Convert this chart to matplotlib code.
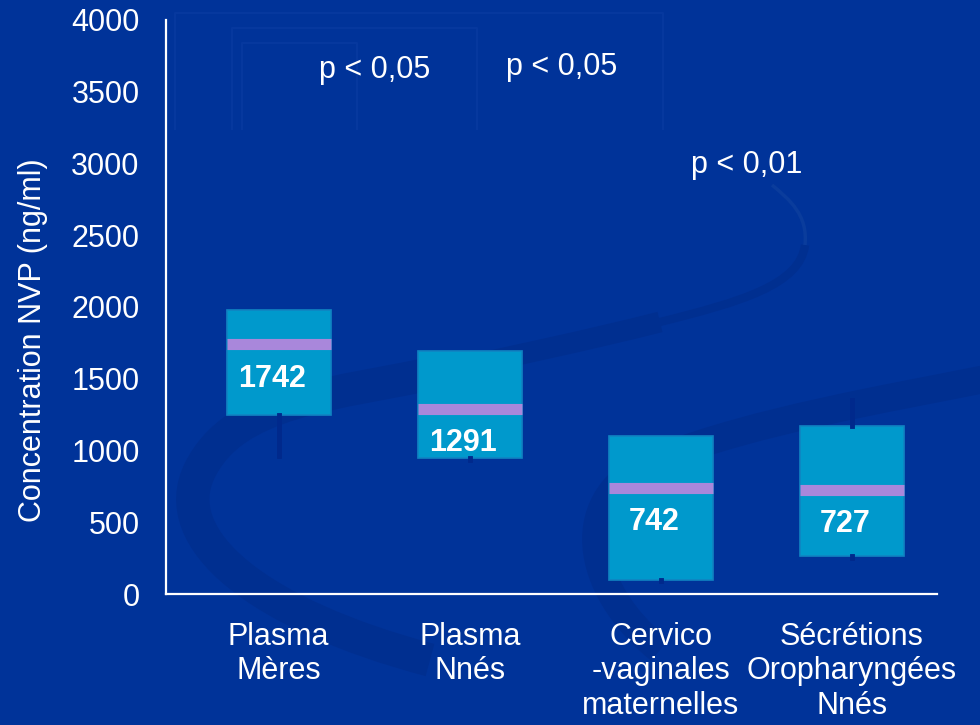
import matplotlib
matplotlib.use("Agg")
import matplotlib.pyplot as plt
from matplotlib.path import Path
from matplotlib.patches import PathPatch

# NVP concentrations (ng/ml) per compartment
categories = ["Plasma\nMères", "Plasma\nNnés", "Cervico\n-vaginales\nmaternelles",
              "Sécrétions\nOropharyngées\nNnés"]
medians = [1742, 1291, 742, 727]
q1 = [1250, 950, 100, 265]
q3 = [1980, 1690, 1100, 1170]
whis_lo = [960, 935, 88, 252]
whis_hi = [1980, 1690, 1100, 1350]

# significance labels: (x position between groups, y, text)
p_labels = [(0.50, 3650, "p < 0,05"), (1.48, 3670, "p < 0,05"), (2.45, 2990, "p < 0,01")]
# faint brackets: (x left, x right, y top, y bottom)
brackets = [(-0.545, 2.01, 4050, 3240), (-0.246, 1.037, 3944, 3240), (-0.194, 0.408, 3840, 3240)]

BG = "#003399"
BOX = "#0099cc"
MED = "#a987db"
WHISK = "#00298c"
FAINT = "#06389e"
SWIRL = "#002f90"

plt.rcParams["font.family"] = ["Liberation Sans", "DejaVu Sans"]

W, H = 980, 725
fig = plt.figure(figsize=(W / 100, H / 100), dpi=100, facecolor=BG)


def px(x, y):
    return (x / W, 1 - y / H)


# background swirl ornament: a band that thins out towards its tail
swirls = [
    ([(430, 660), (260, 615), (165, 540), (200, 470), (235, 400), (330, 395), (450, 370)], 24, SWIRL),
    ([(450, 370), (530, 352), (580, 342), (660, 322)], 15, SWIRL),
    ([(660, 322), (740, 302), (800, 285), (805, 245)], 6, SWIRL),
    ([(805, 245), (808, 215), (790, 200), (772, 185)], 2.5, "#0a3c9c"),
    ([(660, 650), (585, 590), (565, 495), (660, 458), (760, 420), (880, 400), (990, 378)], 20, SWIRL),
]
for pts, lw, col in swirls:
    codes = [Path.MOVETO] + [Path.CURVE4] * (len(pts) - 1)
    path = Path([px(*p) for p in pts], codes)
    fig.add_artist(PathPatch(path, transform=fig.transFigure, facecolor="none",
                             edgecolor=col, lw=lw, capstyle="butt", zorder=0))

ax = fig.add_axes([166 / W, 1 - 594 / H, (937 - 166) / W, (594 - 20) / H])
ax.set_facecolor("none")

stats = []
for i in range(len(categories)):
    stats.append({"med": medians[i], "q1": q1[i], "q3": q3[i],
                  "whislo": whis_lo[i], "whishi": whis_hi[i], "fliers": []})

positions = list(range(len(categories)))
ax.bxp(stats, positions=positions, widths=0.545, patch_artist=True,
       showcaps=False, showfliers=False,
       boxprops=dict(facecolor=BOX, edgecolor="#1084c2", lw=1.2),
       medianprops=dict(color=MED, lw=8, solid_capstyle="butt"),
       whiskerprops=dict(color=WHISK, lw=3.5))

for x, m in zip(positions, medians):
    ax.annotate(str(m), (x, m), xytext=(-5, -25), textcoords="offset points",
                ha="center", va="center", color="white", fontsize=22, fontweight="bold")

for x0, x1, yt, yb in brackets:
    ax.plot([x0, x0, x1, x1], [yb, yt, yt, yb], color=FAINT, lw=1.5, clip_on=False, zorder=0.5)

for x, y, t in p_labels:
    ax.text(x, y, t, ha="center", va="center", color="white", fontsize=22)

ax.set_xlim(-0.59, 3.445)
ax.set_ylim(0, 4000)
ax.set_yticks(range(0, 4001, 500))
ax.set_xticks(positions)
ax.set_xticklabels(categories)
ax.tick_params(axis="both", length=0, labelsize=22, labelcolor="white")
ax.tick_params(axis="y", pad=19)
ax.tick_params(axis="x", pad=20)
for s in ["top", "right"]:
    ax.spines[s].set_visible(False)
for s in ["left", "bottom"]:
    ax.spines[s].set_color("white")
    ax.spines[s].set_linewidth(1.6)

ax.set_ylabel("Concentration NVP (ng/ml)", color="white", fontsize=22)
ax.yaxis.set_label_coords(-0.153, 0.443)

fig.savefig("out.png", dpi=100, facecolor=BG)
